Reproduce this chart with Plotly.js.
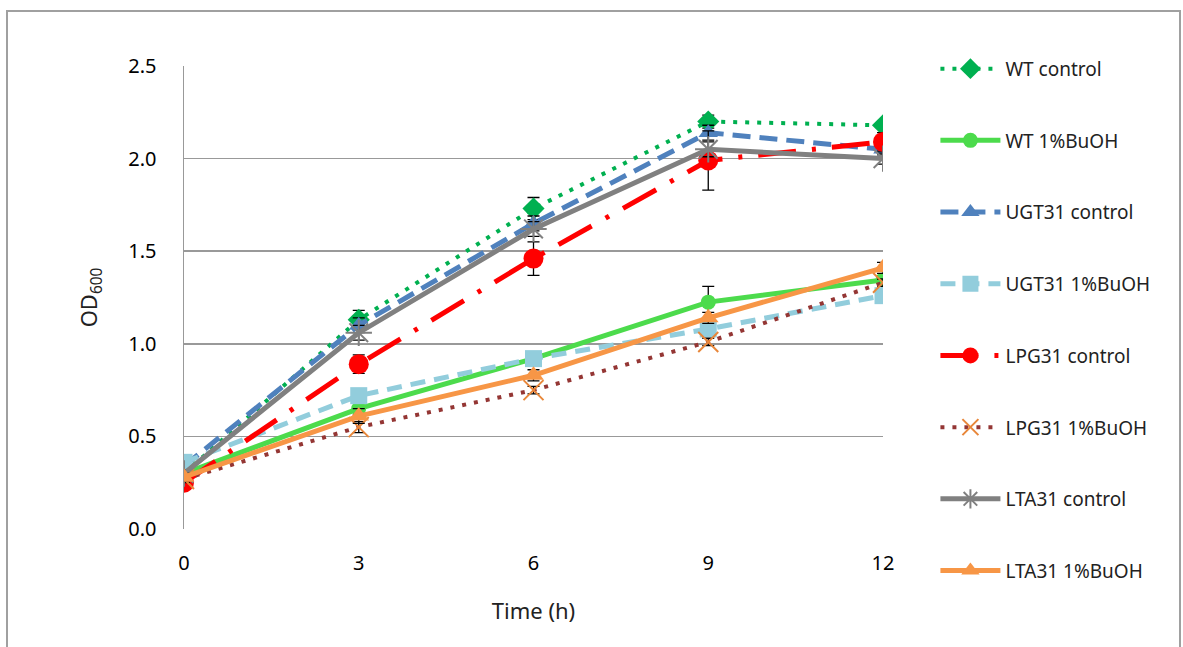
<!DOCTYPE html>
<html>
<head>
<meta charset="utf-8">
<script src="https://cdn.plot.ly/plotly-3.0.1.min.js"></script>
<style>
html,body{margin:0;padding:0;background:#fff;}
#chart{width:1183px;height:647px;}
</style>
</head>
<body>
<div id="chart"></div>
<script>
const time = [0, 3, 6, 9, 12];
const seriesNames = ["WT control", "WT 1%BuOH", "UGT31 control", "UGT31 1%BuOH", "LPG31 control", "LPG31 1%BuOH", "LTA31 control", "LTA31 1%BuOH"];
const wtControl    = [0.30, 1.13, 1.73, 2.20, 2.18];
const wtBuOH       = [0.30, 0.65, 0.92, 1.225, 1.345];
const ugtControl   = [0.34, 1.10, 1.65, 2.14, 2.05];
const ugtBuOH      = [0.36, 0.72, 0.92, 1.08, 1.26];
const lpgControl   = [0.25, 0.89, 1.46, 1.99, 2.09];
const lpgBuOH      = [0.27, 0.55, 0.75, 1.01, 1.33];
const ltaControl   = [0.30, 1.06, 1.62, 2.05, 2.00];
const ltaBuOH      = [0.28, 0.61, 0.83, 1.14, 1.41];
const errWtControl  = [0.02, 0.05, 0.06, 0.035, 0.02];
const errWtBuOH     = [0.02, 0.03, 0.03, 0.085, 0.02];
const errUgtControl = [0.02, 0.04, 0.04, 0.04, 0.03];
const errUgtBuOH    = [0.02, 0.03, 0.03, 0.03, 0.02];
const errLpgControl = [0.02, 0.05, 0.09, 0.16, 0.05];
const errLpgBuOH    = [0.02, 0.03, 0.02, 0.02, 0.02];
const errLtaControl = [0.02, 0.04, 0.04, 0.04, 0.03];
const errLtaBuOH    = [0.02, 0.04, 0.03, 0.03, 0.03];
const yTickVals = [0, 0.5, 1.0, 1.5, 2.0, 2.5];
const yTickText = ["0.0", "0.5", "1.0", "1.5", "2.0", "2.5"];
const xTickVals = [0, 3, 6, 9, 12];

function tr(i, y, err, lineOpts, markerOpts) {
  return {
    x: time, y: y, name: seriesNames[i], type: 'scatter', mode: 'lines+markers',
    legendgroup: 'g' + i,
    line: lineOpts, marker: markerOpts,
    error_y: {type: 'data', array: err, visible: true, color: '#000000', thickness: 1.3, width: 6}
  };
}

const traces = [
  tr(0, wtControl, errWtControl, {color: '#00B050', width: 4, dash: '4px,8px'},
     {symbol: 'diamond', size: 17, color: '#00B050'}),
  tr(1, wtBuOH, errWtBuOH, {color: '#4CDB4C', width: 5},
     {symbol: 'circle', size: 15, color: '#4CDB4C'}),
  tr(2, ugtControl, errUgtControl, {color: '#4F81BD', width: 5, dash: '18px,9px'},
     {symbol: 'triangle-up', size: 17, color: '#4F81BD'}),
  tr(3, ugtBuOH, errUgtBuOH, {color: '#92CDDC', width: 5, dash: '15px,9px'},
     {symbol: 'square', size: 17, color: '#92CDDC'}),
  tr(4, lpgControl, errLpgControl, {color: '#FF0000', width: 5, dash: '38px,16px,4px,16px'},
     {symbol: 'circle', size: 20, color: '#FF0000'}),
  tr(5, lpgBuOH, errLpgBuOH, {color: '#943634', width: 4, dash: '4px,8px'},
     {symbol: 'x-thin-open', size: 20, color: '#E8873A', line: {color: '#E8873A', width: 2}}),
  tr(6, ltaControl, errLtaControl, {color: '#808080', width: 5},
     {symbol: 'asterisk-open', size: 22, color: '#808080', line: {color: '#808080', width: 2}}),
  tr(7, ltaBuOH, errLtaBuOH, {color: '#F79646', width: 5},
     {symbol: 'triangle-up', size: 18, color: '#F79646'})
];

const F = '"Noto Sans", "Open Sans", sans-serif';
const layout = {
  width: 1183, height: 647,
  margin: {l: 184, r: 300, t: 66, b: 118},
  paper_bgcolor: '#ffffff', plot_bgcolor: '#ffffff',
  font: {family: F, size: 18, color: '#000000'},
  showlegend: true,
  legend: {
    x: 1.075, y: 1.035, xanchor: 'left', yanchor: 'top',
    font: {family: F, size: 19, color: '#222222'},
    tracegroupgap: 44, itemwidth: 60, bgcolor: 'rgba(0,0,0,0)',
    maxheight: 640
  },
  xaxis: {
    range: [0, 12], tickvals: xTickVals, ticktext: xTickVals.map(String),
    showgrid: false, zeroline: false, showline: false, ticks: '',
    tickfont: {family: F, size: 20, color: '#000'},
    ticklabelstandoff: 20,
    title: {text: 'Time (h)', font: {family: F, size: 22, color: '#222'}, standoff: 28}
  },
  yaxis: {
    range: [0, 2.5], tickvals: yTickVals, ticktext: yTickText,
    showgrid: true, gridcolor: '#999999', gridwidth: 1.5,
    zeroline: false, showline: true, linecolor: '#999999', linewidth: 1.5, ticks: '',
    tickfont: {family: F, size: 20, color: '#000'},
    ticklabelstandoff: 22,
    title: {text: 'OD<sub>600</sub>', font: {family: F, size: 22, color: '#222'}, standoff: 24}
  },
  shapes: [
    {type: 'rect', xref: 'paper', yref: 'paper',
     x0: (7 - 184) / 699, x1: (1180 - 184) / 699,
     y0: -0.4, y1: (529 - 11) / 463,
     line: {color: '#a0a0a0', width: 2}, layer: 'below'}
  ]
};

Plotly.newPlot('chart', traces, layout, {displayModeBar: false, staticPlot: true});
</script>
</body>
</html>
